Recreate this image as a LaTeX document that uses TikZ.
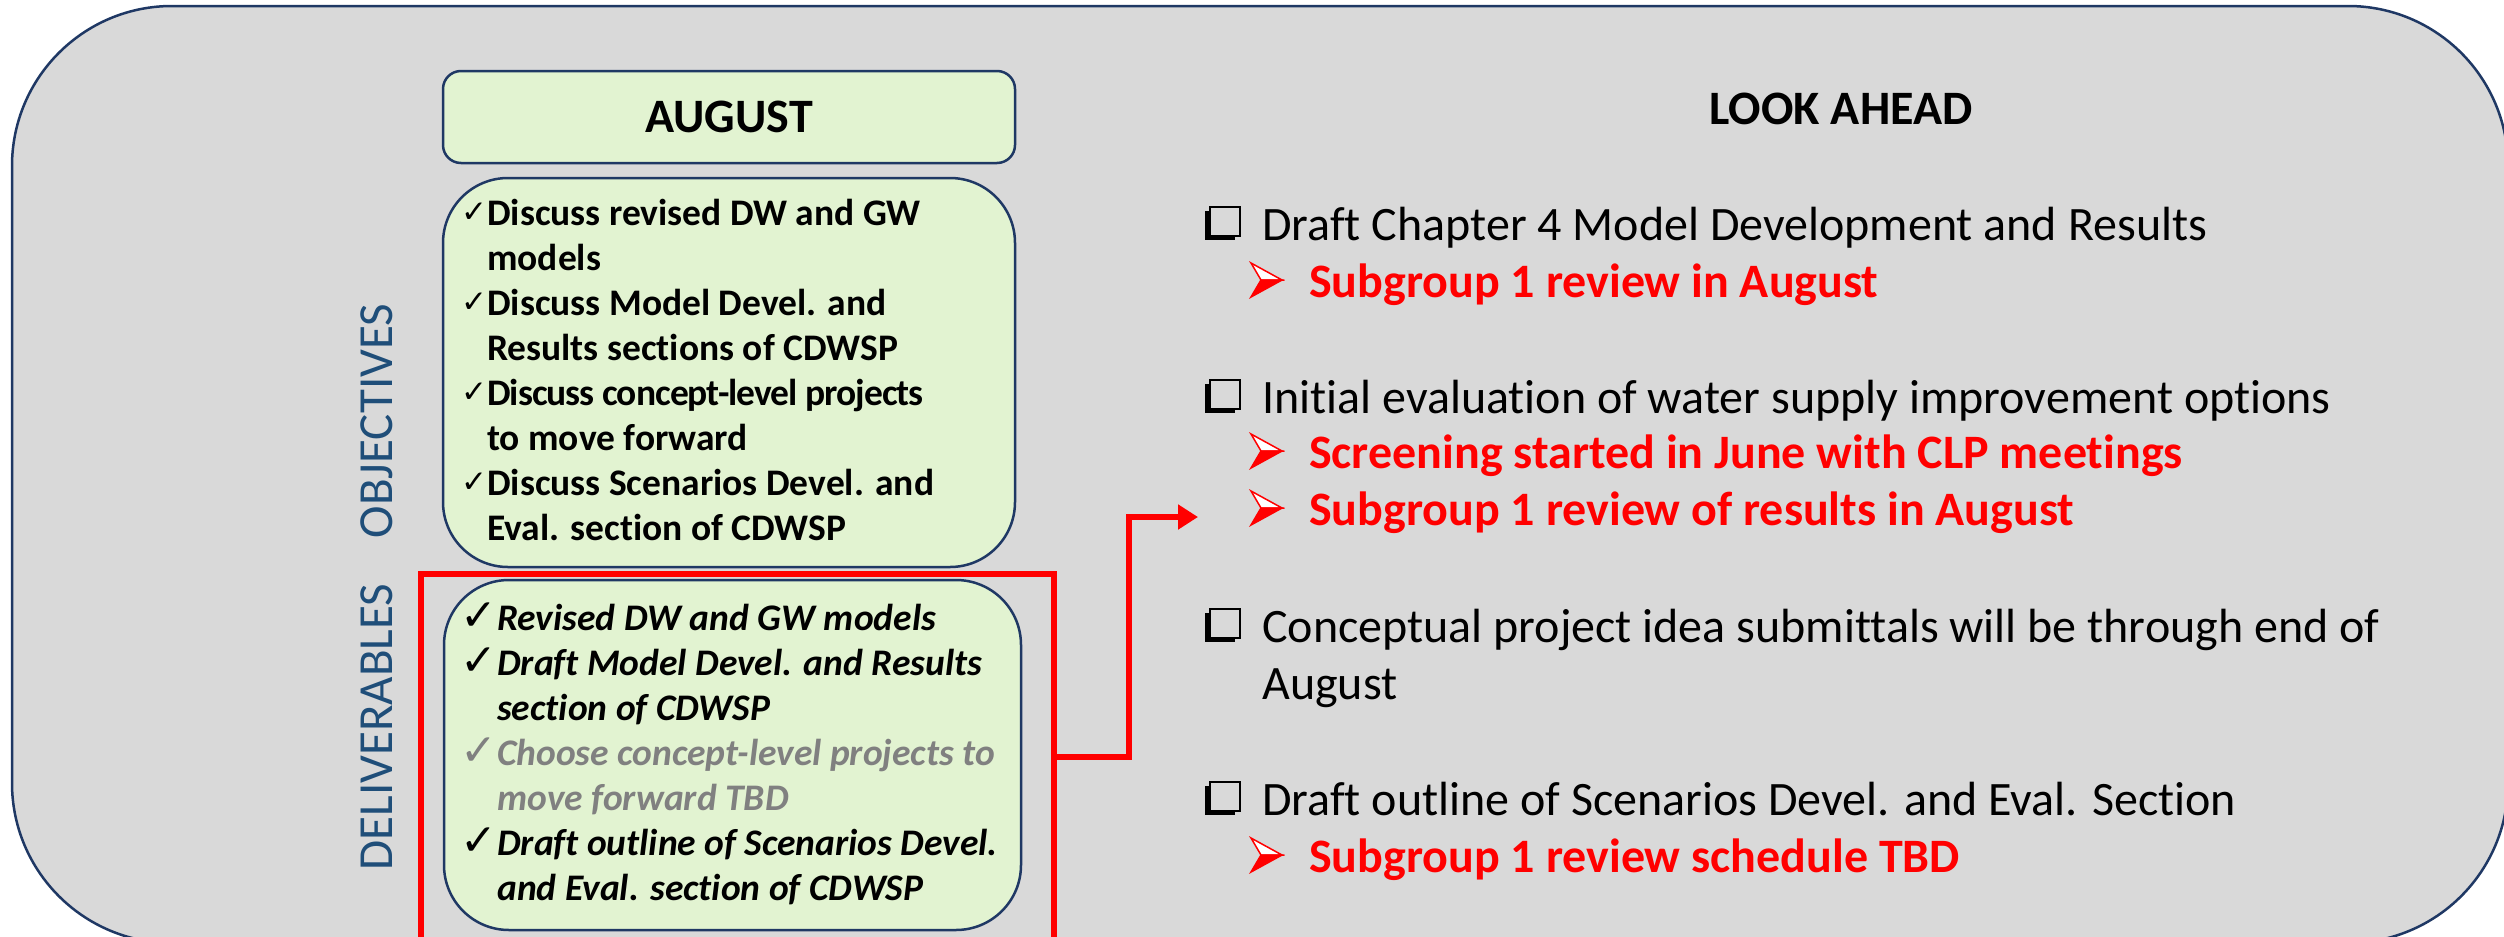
\documentclass[tikz,border=0pt]{standalone}
\usepackage{fontspec}
\setmainfont{Carlito}[Ligatures=NoCommon]
\newfontfamily\symfont{DejaVu Sans}
\usetikzlibrary{arrows.meta}

\definecolor{panelgray}{HTML}{D9D9D9}
\definecolor{navy}{HTML}{1F3864}
\definecolor{mint}{HTML}{E2F3D1}
\definecolor{labelblue}{HTML}{1F4E79}
\definecolor{tbdgray}{HTML}{808080}

\newcommand{\fsz}[2]{\fontsize{#1}{#2}\selectfont}
\newcommand{\itemlines}[1]{\parbox[t]{1250pt}{\raggedright #1}}
\newcommand{\tightline}[1]{{\addfontfeature{LetterSpace=-2.6}#1}}

\tikzset{
  panel/.style={draw=navy, line width=2.5pt, fill=panelgray, rounded corners=160pt},
  greenbox/.style={draw=navy, line width=2.5pt, fill=mint, inner sep=0pt},
  sidelabel/.style={rotate=90, text=labelblue, inner sep=0pt, font=\fsz{49}{58}},
  heading/.style={inner sep=0pt, font=\bfseries\fsz{48}{58}},
  objtext/.style={anchor=base west, inner sep=0pt, font=\bfseries\fsz{37.5}{45}},
  deltext/.style={anchor=base west, inner sep=0pt, font=\bfseries\itshape\fsz{37.5}{45}},
  objtick/.style={anchor=base west, inner sep=0pt, font=\symfont\fsz{31}{31}},
  deltick/.style={anchor=base west, inner sep=0pt, font=\symfont\fsz{44}{44}},
  looktext/.style={anchor=base west, inner sep=0pt, font=\fsz{48}{57.5}},
  subtext/.style={anchor=base west, inner sep=0pt, text=red, font=\bfseries\fsz{48}{57.5}},
  highlight/.style={draw=red, line width=5.5pt, inner sep=0pt},
  link/.style={draw=red, line width=6pt, -{Triangle[length=20pt,width=24pt]}},
  % shadowed check box, placed at its lower-left corner on the baseline
  pics/ckbox/.style={code={
    \fill[black] (0,-29) rectangle (30,0);
    \filldraw[fill=panelgray, draw=black, line width=2.5pt] (5,-33) rectangle (35,-4);
  }},
  % three-dimensional arrowhead bullet, placed at its lower-left point
  pics/arrowbullet/.style={code={
    \filldraw[fill=white, draw=red, line width=1.5pt, line join=miter] (0,-34) -- (31,-17) -- (10,-17) -- cycle;
    \filldraw[fill=red, draw=red, line width=1.5pt, line join=miter] (10,-17) -- (31,-17) -- (0,0) -- cycle;
  }}
}

\begin{document}
\begin{tikzpicture}[x=1pt, y=-1pt]
\useasboundingbox (0,0) rectangle (2504,937);

% background panel
\draw[panel] (12,6) rectangle (2508,943);

% left column: month header, objectives, deliverables
\node[greenbox, rounded corners=18pt, minimum width=572pt, minimum height=92pt,
      font=\bfseries\fsz{48}{58}] (aug) at (729,117) {AUGUST};
\node[greenbox, rounded corners=65pt, minimum width=572pt, minimum height=389pt] (obj) at (729,372.5) {};
\node[greenbox, rounded corners=65pt, minimum width=577pt, minimum height=350pt] (del) at (732.5,755) {};

\node[sidelabel] (objlabel) at (377,421) {OBJECTIVES};
\node[sidelabel] (dellabel) at (377,727) {DELIVERABLES};

% objectives
\node[objtick] (ot1) at (461,222) {✓};
\node[objtext] (o1) at (487,225) {\itemlines{Discuss revised DW and GW\\models}};
\node[objtick] (ot2) at (461,312) {✓};
\node[objtext] (o2) at (487,315) {\itemlines{Discuss Model Devel. and\\Results sections of CDWSP}};
\node[objtick] (ot3) at (461,402) {✓};
\node[objtext] (o3) at (487,405) {\itemlines{\tightline{Discuss concept-level projects}\\to move forward}};
\node[objtick] (ot4) at (461,492) {✓};
\node[objtext] (o4) at (487,495) {\itemlines{Discuss Scenarios Devel. and\\Eval. section of CDWSP}};

% deliverables
\node[deltick] (dt1) at (460,630) {✓};
\node[deltext] (d1) at (497,630) {\itemlines{Revised DW and GW models}};
\node[deltick] (dt2) at (460,675) {✓};
\node[deltext] (d2) at (497,675) {\itemlines{Draft Model Devel. and Results\\section of CDWSP}};
\node[deltick, text=tbdgray] (dt3) at (460,765) {✓};
\node[deltext, text=tbdgray] (d3) at (497,765) {\itemlines{Choose concept-level projects to\\move forward TBD}};
\node[deltick] (dt4) at (460,855) {✓};
\node[deltext] (d4) at (497,855) {\itemlines{Draft outline of Scenarios Devel.\\and Eval. section of CDWSP}};

% highlight frame round the deliverables and its link to the look-ahead list
\node[highlight, minimum width=633pt, minimum height=366pt] (hl) at (737.5,757) {};
\coordinate (linkend) at (1198,517);
\draw[link] (hl.east) -- ++(72,0) |- (linkend);

% right column: look ahead
\node[heading] (look) at (1841,109) {LOOK AHEAD};

\pic at (1205,240) {ckbox};
\node[looktext] (l1) at (1262,240) {\itemlines{Draft Chapter 4 Model Development and Results}};
\pic at (1251,297) {arrowbullet};
\node[subtext] (s1) at (1309,297) {\itemlines{Subgroup 1 review in August}};

\pic at (1205,413) {ckbox};
\node[looktext] (l2) at (1262,413) {\itemlines{Initial evaluation of water supply improvement options}};
\pic at (1251,468) {arrowbullet};
\node[subtext] (s2) at (1309,468) {\itemlines{Screening started in June with CLP meetings}};
\pic at (1251,525) {arrowbullet};
\node[subtext] (s3) at (1309,525) {\itemlines{Subgroup 1 review of results in August}};

\pic at (1205,642) {ckbox};
\node[looktext] (l3) at (1262,642) {\itemlines{Conceptual project idea submittals will be through end of\\August}};

\pic at (1205,815) {ckbox};
\node[looktext] (l4) at (1262,815) {\itemlines{Draft outline of Scenarios Devel. and Eval. Section}};
\pic at (1251,872) {arrowbullet};
\node[subtext] (s4) at (1309,872) {\itemlines{Subgroup 1 review schedule TBD}};
\end{tikzpicture}
\end{document}
